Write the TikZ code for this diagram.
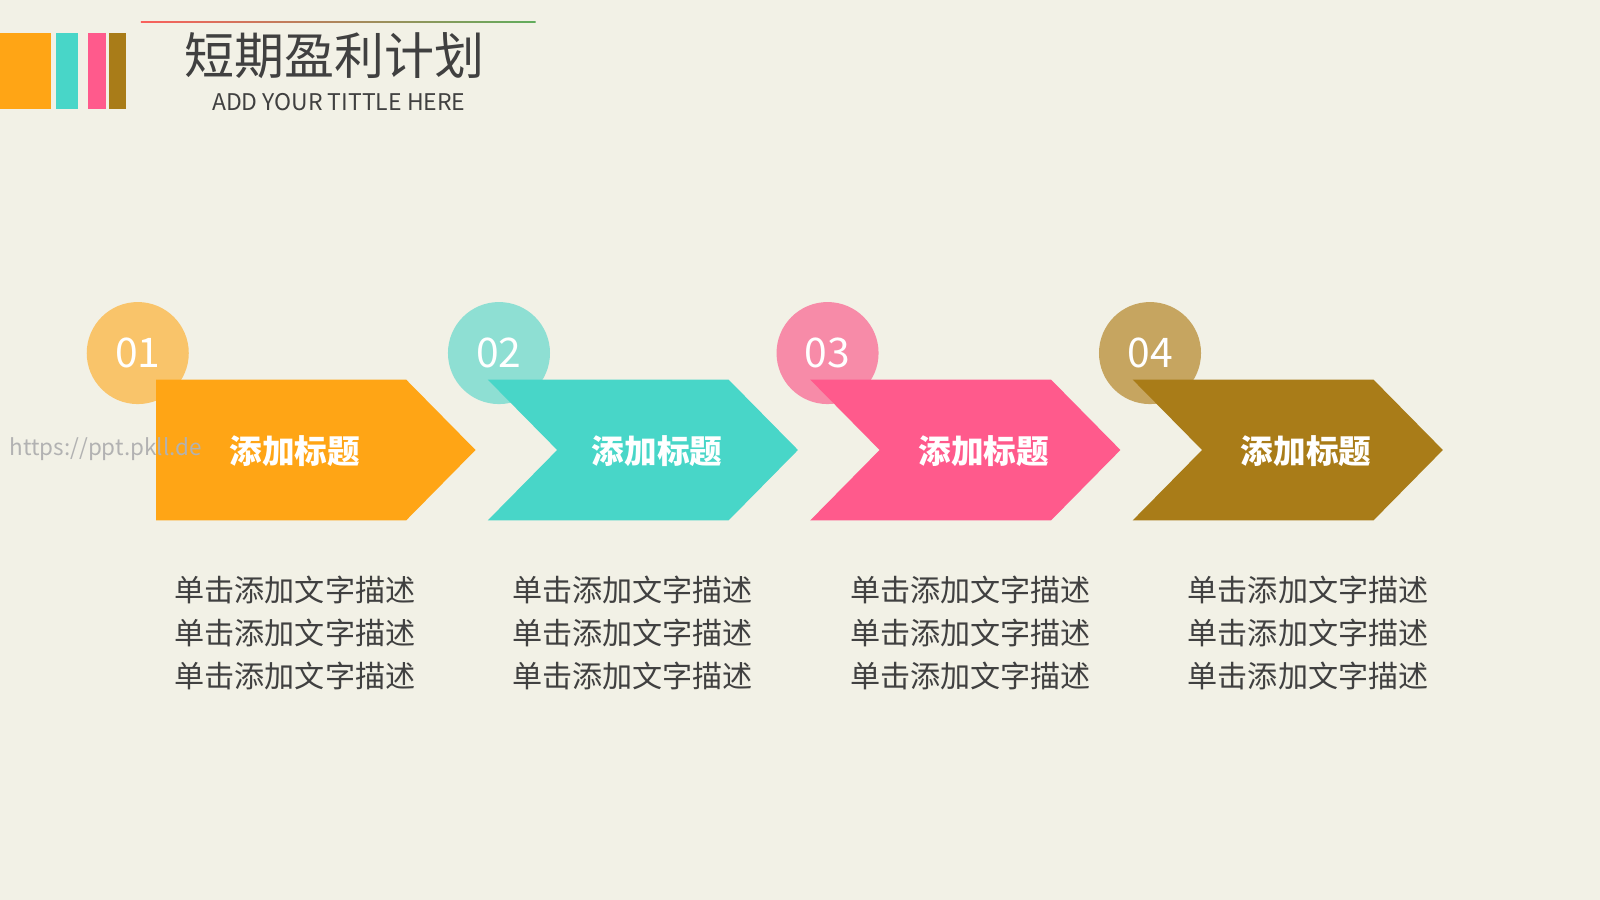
\documentclass[tikz,border=0pt]{standalone}
\usepackage{fontspec}
\setmainfont{Noto Sans CJK SC}
\definecolor{bg}{HTML}{F2F1E6}
\definecolor{c1}{HTML}{FFA515}\definecolor{l1}{HTML}{F9C46A}
\definecolor{c2}{HTML}{48D6C8}\definecolor{l2}{HTML}{8EDFD3}
\definecolor{c3}{HTML}{FF5A8C}\definecolor{l3}{HTML}{F78BA8}
\definecolor{c4}{HTML}{A97C18}\definecolor{l4}{HTML}{C6A560}
\definecolor{txt}{HTML}{404040}
\tikzset{x=1pt,y=-1pt,
 num/.style={font=\fontsize{40}{40}\selectfont,text=white},
 lab/.style={font=\fontsize{32}{32}\selectfont\bfseries,text=white},
 desc/.style={font=\fontsize{29.5}{42}\selectfont,text=txt,align=center}}
\begin{document}
\begin{tikzpicture}
\fill[bg] (0,0) rectangle (1568,882);
\useasboundingbox (0,0) rectangle (1568,882);
\fill[c1] (0,32) rectangle (50,107);
\fill[c2] (55,32) rectangle (76,107);
\fill[c3] (86,32) rectangle (104,107);
\fill[c4] (107,32) rectangle (123,107);
\shade[left color=red!60!bg,right color=green!50!black!60!bg] (138,20.8) rectangle (525,22);
\node (title) at (328,55) {\fontsize{49}{49}\selectfont\color{txt}短期盈利计划};
\node (sub) at (332,100) {\fontsize{22.5}{22}\selectfont\color{txt}ADD YOUR TITTLE HERE};
\foreach \i/\cx/\l in {1/135/l1,2/489/l2,3/811/l3,4/1127/l4}{
  \fill[\l] (\cx,346) circle (50);
  \node[num] (n\i) at (\cx,346) {0\i};
}
\fill[c1] (153,372) -- (398,372) -- (466,441) -- (398,510) -- (153,510) -- cycle;
\foreach \i/\x/\c in {2/478/c2,3/794/c3,4/1110/c4}{
  \fill[\c] (\x,372) -- (\x+236,372) -- (\x+304,441) -- (\x+236,510) -- (\x,510) -- (\x+68,441) -- cycle;
}
\node[anchor=west,text=gray!60,font=\fontsize{22}{22}\selectfont] (wm) at (6,440) {https://ppt.pkll.de};
\foreach \i/\cx in {1/289,2/644,3/964,4/1280}{
  \node[lab] (t\i) at (\cx,442) {添加标题};
}
\foreach \i/\cx in {1/289,2/620,3/951,4/1282}{
  \node[desc] (d\i) at (\cx,620) {单击添加文字描述\\单击添加文字描述\\单击添加文字描述};
}
\end{tikzpicture}
\end{document}
